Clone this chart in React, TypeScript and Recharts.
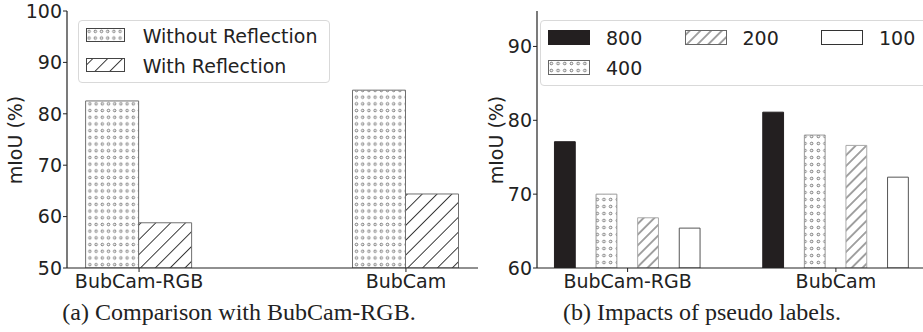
import React from 'react';
import { BarChart, Bar, XAxis, YAxis, Legend } from 'recharts';

// values
const categories = ['BubCam-RGB', 'BubCam'];
const reflectionNames = ['Without Reflection', 'With Reflection'];
const withoutReflection = [82.5, 84.6];
const withReflection = [58.8, 64.4];
const leftTicks = [50, 60, 70, 80, 90, 100];

const labelCounts = ['800', '400', '200', '100'];
const miou800 = [77.1, 81.1];
const miou400 = [70.0, 78.0];
const miou200 = [66.8, 76.6];
const miou100 = [65.4, 72.3];
const rightTicks = [60, 70, 80, 90];

const leftData = categories.map((c, i) => ({
  x: i,
  name: c,
  without: withoutReflection[i],
  with: withReflection[i],
}));

const rightSeries = [miou800, miou400, miou200, miou100];
const rightData = categories.map((c, i) => {
  const row: Record<string, number | string> = { x: i, name: c };
  labelCounts.forEach((k, j) => {
    row['n' + k] = rightSeries[j][i];
  });
  return row;
});

const FONT = '"DejaVu Sans", sans-serif';
const INK = '#222';
const tickStyle = { fontSize: 19, fill: INK, fontFamily: FONT };

const leftStyles = [
  { fill: 'url(#dotsL)', stroke: '#707070', swatchStroke: '#444' },
  { fill: 'url(#hatchL)', stroke: '#707070', swatchStroke: '#444' },
];
const rightStyles = [
  { fill: '#231f20', stroke: '#231f20', swatchStroke: '#231f20' },
  { fill: 'url(#dotsR)', stroke: '#9a9a9a', swatchStroke: '#666' },
  { fill: 'url(#hatchR)', stroke: '#aaaaaa', swatchStroke: '#666' },
  { fill: '#ffffff', stroke: '#555', swatchStroke: '#333' },
];

const Patterns = () => (
  <svg width={0} height={0} style={{ position: 'absolute' }}>
    <defs>
      <pattern id="dotsL" patternUnits="userSpaceOnUse" width={6.2} height={6.7}>
        <rect width={6.2} height={6.7} fill="#fff" />
        <circle cx={3.1} cy={3.35} r={1.25} fill="none" stroke="#555" strokeWidth={0.8} />
      </pattern>
      <pattern id="hatchL" patternUnits="userSpaceOnUse" width={10.5} height={10.5} patternTransform="rotate(45)">
        <rect width={10.5} height={10.5} fill="#fff" />
        <line x1={5.25} y1={0} x2={5.25} y2={10.5} stroke="#333" strokeWidth={1} />
      </pattern>
      <pattern id="dotsR" patternUnits="userSpaceOnUse" width={6.7} height={7}>
        <rect width={6.7} height={7} fill="#fff" />
        <circle cx={3.35} cy={3.5} r={1.3} fill="none" stroke="#555" strokeWidth={0.8} />
      </pattern>
      <pattern id="hatchR" patternUnits="userSpaceOnUse" width={7.6} height={7.6} patternTransform="rotate(45)">
        <rect width={7.6} height={7.6} fill="#fff" />
        <line x1={3.8} y1={0} x2={3.8} y2={7.6} stroke="#333" strokeWidth={0.9} />
      </pattern>
    </defs>
  </svg>
);

const boxStyle: React.CSSProperties = {
  position: 'relative',
  border: '1px solid #d9d9d9',
  borderRadius: 4,
  background: 'rgba(255,255,255,0.8)',
  boxSizing: 'border-box',
  width: '100%',
  height: '100%',
  fontFamily: FONT,
  fontSize: 19,
  color: INK,
};

const LeftLegend = () => (
  <div style={boxStyle}>
    {reflectionNames.map((name, i) => (
      <React.Fragment key={name}>
        <svg width={39} height={14} style={{ position: 'absolute', left: 7, top: 7 + 29.5 * i }}>
          <rect x={0.5} y={0.5} width={38} height={13} fill={leftStyles[i].fill} stroke={leftStyles[i].swatchStroke} />
        </svg>
        <div style={{ position: 'absolute', left: 64, top: 4 + 29.5 * i, lineHeight: '22px', whiteSpace: 'nowrap' }}>{name}</div>
      </React.Fragment>
    ))}
  </div>
);

// matplotlib-style ncol=3 layout: the first columns take the extra entries
const legendCols = 3;
const legendSlot = (i: number, n: number) => {
  const base = Math.floor(n / legendCols);
  const extra = n % legendCols;
  let start = 0;
  for (let c = 0; c < legendCols; c++) {
    const size = base + (c < extra ? 1 : 0);
    if (i < start + size) return { col: c, row: i - start };
    start += size;
  }
  return { col: 0, row: 0 };
};

const RightLegend = () => (
  <div style={boxStyle}>
    {labelCounts.map((name, i) => {
      const { col, row } = legendSlot(i, labelCounts.length);
      return (
        <React.Fragment key={name}>
          <svg width={42} height={15} style={{ position: 'absolute', left: 7 + 136.5 * col, top: 9 + 30 * row }}>
            <rect x={0.5} y={0.5} width={41} height={14} fill={rightStyles[i].fill} stroke={rightStyles[i].swatchStroke} />
          </svg>
          <div style={{ position: 'absolute', left: 65 + 136.5 * col, top: 6 + 30 * row, lineHeight: '22px' }}>{name}</div>
        </React.Fragment>
      );
    })}
  </div>
);

const spine = { stroke: INK, strokeWidth: 1.2 };

export default function App() {
  return (
    <div style={{ position: 'absolute', left: 0, top: 0, width: 923, height: 332, overflow: 'hidden', background: '#fff' }}>
      <Patterns />
      <div style={{ position: 'absolute', left: 0, top: 0 }}>
        <BarChart width={480} height={332} data={leftData} margin={{ top: 11, right: 2, bottom: 34, left: 7 }} barGap={0}>
          <XAxis
            dataKey="x"
            type="number"
            domain={[-0.27, 1.27]}
            allowDataOverflow
            ticks={[0, 1]}
            tickFormatter={(v: number) => categories[v]}
            height={30}
            tickSize={4}
            tickMargin={3}
            tick={tickStyle}
            axisLine={spine}
            tickLine={{ stroke: INK }}
          />
          <XAxis xAxisId="top" orientation="top" type="number" domain={[0, 1]} height={0} tick={false} tickLine={false} axisLine={spine} />
          <YAxis
            type="number"
            domain={[50, 100]}
            allowDataOverflow
            ticks={leftTicks}
            width={60}
            tickSize={4}
            tickMargin={1}
            tick={tickStyle}
            axisLine={spine}
            tickLine={{ stroke: INK }}
          />
          <YAxis yAxisId="right" orientation="right" type="number" domain={[0, 1]} width={0} tick={false} tickLine={false} axisLine={spine} />
          <Bar dataKey="without" name={reflectionNames[0]} barSize={53} fill={leftStyles[0].fill} stroke={leftStyles[0].stroke} isAnimationActive={false} />
          <Bar dataKey="with" name={reflectionNames[1]} barSize={53} fill={leftStyles[1].fill} stroke={leftStyles[1].stroke} isAnimationActive={false} />
          <Legend
            layout="vertical"
            align="center"
            verticalAlign="middle"
            content={() => <LeftLegend />}
            wrapperStyle={{ left: 77.7, top: 20, width: 252, height: 63 }}
          />
          <text x={15} y={140} transform="rotate(-90 15 140)" textAnchor="middle" dominantBaseline="central" fontFamily={FONT} fontSize={19} fill={INK}>
            mIoU (%)
          </text>
          <text x={239} y={320} textAnchor="middle" fontFamily='"Liberation Serif", serif' fontSize={24} fill={INK}>
            (a) Comparison with BubCam-RGB.
          </text>
        </BarChart>
      </div>
      <div style={{ position: 'absolute', left: 480, top: 0 }}>
        <BarChart width={460} height={332} data={rightData} margin={{ top: 11, right: 13.5, bottom: 34, left: 7 }} barGap={20.8}>
          <XAxis
            dataKey="x"
            type="number"
            domain={[-0.435, 1.435]}
            allowDataOverflow
            ticks={[0, 1]}
            tickFormatter={(v: number) => categories[v]}
            height={30}
            tickSize={4}
            tickMargin={3}
            tick={tickStyle}
            axisLine={spine}
            tickLine={{ stroke: INK }}
          />
          <XAxis xAxisId="top" orientation="top" type="number" domain={[0, 1]} height={0} tick={false} tickLine={false} axisLine={spine} />
          <YAxis
            type="number"
            domain={[60, 94.8]}
            allowDataOverflow
            ticks={rightTicks}
            width={50}
            tickSize={4}
            tickMargin={1}
            tick={tickStyle}
            axisLine={spine}
            tickLine={{ stroke: INK }}
          />
          {labelCounts.map((k, j) => (
            <Bar
              key={k}
              dataKey={'n' + k}
              name={k}
              barSize={20.8}
              fill={rightStyles[j].fill}
              stroke={rightStyles[j].stroke}
              isAnimationActive={false}
            />
          ))}
          <Legend
            layout="vertical"
            align="center"
            verticalAlign="middle"
            content={() => <RightLegend />}
            wrapperStyle={{ left: 60, top: 20, width: 400, height: 66 }}
          />
          <text x={15.5} y={140} transform="rotate(-90 15.5 140)" textAnchor="middle" dominantBaseline="central" fontFamily={FONT} fontSize={19} fill={INK}>
            mIoU (%)
          </text>
          <text x={222} y={320} textAnchor="middle" fontFamily='"Liberation Serif", serif' fontSize={24} fill={INK}>
            (b) Impacts of pseudo labels.
          </text>
        </BarChart>
      </div>
    </div>
  );
}
